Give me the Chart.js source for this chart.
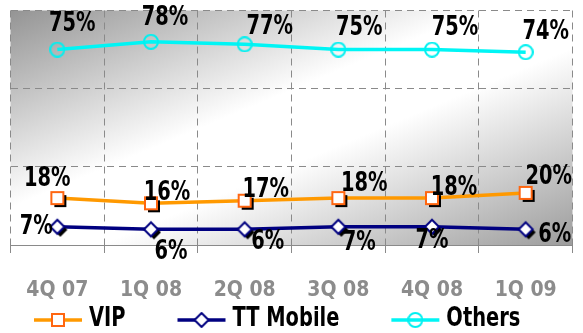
<!DOCTYPE html>
<html>
<head>
<meta charset="utf-8">
<script src="https://cdn.jsdelivr.net/npm/chart.js@4.4.1/dist/chart.umd.min.js"></script>
<style>
  html, body { margin: 0; padding: 0; background: #ffffff; }
  #wrap { width: 583px; height: 333px; position: relative; }
</style>
</head>
<body>
<div id="wrap"><canvas id="chart"></canvas></div>
<script>
// Market share by quarter, %
const categories = ['4Q 07', '1Q 08', '2Q 08', '3Q 08', '4Q 08', '1Q 09'];
const vipShare = [18, 16, 17, 18, 18, 20];
const ttMobileShare = [7, 6, 6, 7, 7, 6];
const othersShare = [75, 78, 77, 75, 75, 74];
const seriesNames = ['VIP', 'TT Mobile', 'Others'];
const yTicks = [0, 30, 60, 90];

const FONT = '"DejaVu Sans Condensed", "DejaVu Sans", sans-serif';
const NARROW = 0.8; // horizontal squeeze for the big bold labels

// Offsets of each value label from its point, in px
const labelOffsets = {
  vip:    [[-10, -19], [16, -10], [21, -11], [26, -14], [22, -10], [23, -16]],
  tt:     [[-21, 0], [20, 23], [23, 13], [21, 16], [0, 14], [29, 6]],
  others: [[15, -26], [14, -24], [25, -17], [21, -22], [23, -22], [20, -20]]
};

// Marker sprites: white square / diamond with a hard black drop shadow, open circle
function makeMarker(kind, color, withShadow) {
  const half = 7, sh = withShadow ? 3 : 0;
  const size = (half + sh) * 2 + 2;
  const c = document.createElement('canvas');
  c.width = size; c.height = size;
  const g = c.getContext('2d');
  const cx = size / 2, cy = size / 2;
  function shape(ox, oy) {
    g.beginPath();
    if (kind === 'square') {
      g.rect(cx - 6 + ox, cy - 6 + oy, 12, 12);
    } else if (kind === 'diamond') {
      g.moveTo(cx + ox, cy - 7 + oy);
      g.lineTo(cx + 7 + ox, cy + oy);
      g.lineTo(cx + ox, cy + 7 + oy);
      g.lineTo(cx - 7 + ox, cy + oy);
      g.closePath();
    } else {
      g.arc(cx + ox, cy + oy, 7, 0, Math.PI * 2);
    }
  }
  if (kind === 'circle') {
    shape(0, 0);
    g.lineWidth = 2;
    g.strokeStyle = color;
    g.stroke();
    return c;
  }
  if (withShadow) {
    shape(sh, sh);
    g.fillStyle = '#000000';
    g.fill();
  }
  shape(0, 0);
  g.fillStyle = '#ffffff';
  g.fill();
  g.lineWidth = 2;
  g.strokeStyle = color;
  g.stroke();
  return c;
}

const colors = {
  vipLine: '#ff9900', vipEdge: '#ff6610',
  ttLine: '#000080', ttEdge: '#000080',
  othersLine: '#00f5f5', othersEdge: '#00f0f0'
};

const markers = {
  vip: makeMarker('square', colors.vipEdge, true),
  tt: makeMarker('diamond', colors.ttEdge, true),
  others: makeMarker('circle', colors.othersEdge, false)
};
const legendMarkers = [
  makeMarker('square', colors.vipEdge, false),
  makeMarker('diamond', colors.ttEdge, false),
  makeMarker('circle', colors.othersEdge, false)
];

function squeezedText(ctx, text, x, y) {
  ctx.save();
  ctx.translate(x, y);
  ctx.scale(NARROW, 1);
  ctx.fillText(text, 0, 0);
  ctx.restore();
}

// Plot area shading: dark corners top-left and bottom-right, white band between
const plotShade = {
  id: 'plotShade',
  beforeDraw(chart) {
    const a = chart.chartArea, ctx = chart.ctx;
    ctx.save();
    ctx.translate(a.left, a.top);
    ctx.scale(a.right - a.left, a.bottom - a.top);
    const grd = ctx.createLinearGradient(0, 0, 1, 1);
    grd.addColorStop(0, '#949494');
    grd.addColorStop(0.42, '#ffffff');
    grd.addColorStop(0.58, '#ffffff');
    grd.addColorStop(1, '#9c9c9c');
    ctx.fillStyle = grd;
    ctx.fillRect(0, 0, 1, 1);
    ctx.restore();
  }
};

// Value labels next to each point
const valueLabels = {
  id: 'valueLabels',
  afterDatasetsDraw(chart) {
    const ctx = chart.ctx;
    const keys = ['vip', 'tt', 'others'];
    ctx.save();
    ctx.font = 'bold 27px ' + FONT;
    ctx.fillStyle = '#000000';
    ctx.textAlign = 'center';
    ctx.textBaseline = 'middle';
    chart.data.datasets.forEach((ds, di) => {
      const meta = chart.getDatasetMeta(di);
      meta.data.forEach((pt, i) => {
        const off = labelOffsets[keys[di]][i];
        squeezedText(ctx, ds.data[i] + '%', pt.x + off[0], pt.y + off[1]);
      });
    });
    ctx.restore();
  }
};

// Legend row: line sample with marker, then series name
const lineLegend = {
  id: 'lineLegend',
  afterDraw(chart) {
    const ctx = chart.ctx;
    const y = 320;
    let x = 34;
    ctx.save();
    ctx.font = 'bold 27px ' + FONT;
    ctx.textBaseline = 'middle';
    ctx.textAlign = 'left';
    chart.data.datasets.forEach((ds, di) => {
      ctx.strokeStyle = ds.borderColor;
      ctx.lineWidth = 3.5;
      ctx.beginPath();
      ctx.moveTo(x, y);
      ctx.lineTo(x + 48, y);
      ctx.stroke();
      const m = legendMarkers[di];
      ctx.drawImage(m, x + 24 - m.width / 2, y - m.height / 2);
      ctx.fillStyle = '#000000';
      squeezedText(ctx, ds.label, x + 55, y - 1);
      x += 55 + ctx.measureText(ds.label).width * NARROW + 52;
    });
    ctx.restore();
  }
};

new Chart(document.getElementById('chart'), {
  type: 'line',
  data: {
    labels: categories,
    datasets: [
      { label: seriesNames[0], data: vipShare, borderColor: colors.vipLine, borderWidth: 3.5,
        pointStyle: markers.vip, pointRadius: 7, tension: 0 },
      { label: seriesNames[1], data: ttMobileShare, borderColor: colors.ttLine, borderWidth: 3.5,
        pointStyle: markers.tt, pointRadius: 7, tension: 0 },
      { label: seriesNames[2], data: othersShare, borderColor: colors.othersLine, borderWidth: 3.5,
        pointStyle: markers.others, pointRadius: 7, tension: 0 }
    ]
  },
  options: {
    responsive: true,
    maintainAspectRatio: false,
    animation: false,
    devicePixelRatio: 1,
    layout: { padding: { top: 10, left: 6, right: 0, bottom: 0 } },
    plugins: {
      legend: { display: false },
      tooltip: { enabled: false }
    },
    scales: {
      x: {
        offset: true,
        grid: {
          offset: true,
          color: '#8a8a8a',
          lineWidth: 1,
          tickLength: 8,
          tickColor: '#8a8a8a',
          tickBorderDash: [7, 5]
        },
        border: { display: true, color: '#8a8a8a', width: 1, dash: [7, 5] },
        ticks: {
          color: '#8c8c8c',
          font: { family: FONT, size: 21, weight: 'bold' },
          padding: 25,
          maxRotation: 0
        },
        afterFit(scale) { scale.height = 88; }
      },
      y: {
        min: yTicks[0],
        max: yTicks[yTicks.length - 1],
        afterBuildTicks(scale) { scale.ticks = yTicks.map(v => ({ value: v })); },
        ticks: { display: false },
        grid: { color: '#8a8a8a', lineWidth: 1, drawTicks: false },
        border: { display: false, dash: [7, 5] },
        afterFit(scale) { scale.width = 0; }
      }
    }
  },
  plugins: [plotShade, valueLabels, lineLegend]
});
</script>
</body>
</html>
